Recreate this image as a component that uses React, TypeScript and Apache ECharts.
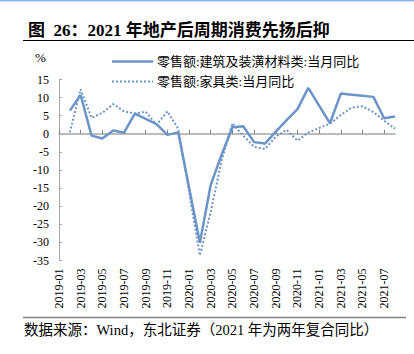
import React, { useEffect, useRef } from "react";
import * as echarts from "echarts";

const categories = [
  "2019-01","2019-02","2019-03","2019-04","2019-05","2019-06","2019-07","2019-08","2019-09","2019-10","2019-11","2019-12",
  "2020-01","2020-02","2020-03","2020-04","2020-05","2020-06","2020-07","2020-08","2020-09","2020-10","2020-11","2020-12",
  "2021-01","2021-02","2021-03","2021-04","2021-05","2021-06","2021-07","2021-08",
];

const buildingMaterials = [
  null, 6.4, 10.7, -0.5, -1.3, 0.9, 0.3, 5.6, 4.1, 2.7, -0.3, 0.4,
  null, -30.1, -14.1, -5.8, 1.8, 2.1, -2.3, -2.7, 0.6, 3.8, 6.8, 12.7,
  null, 2.9, 11.1, 10.8, 10.5, 10.2, 4.3, 4.8,
];

const furniture = [
  null, 0.4, 12.3, 4.4, 5.8, 8.2, 6.2, 5.6, 6.1, 2.5, 6.2, 1.4,
  null, -33.6, -21.5, -7.5, 2.9, -0.5, -3.6, -4.2, -0.8, 1.1, -1.9, 0.4,
  null, 2.8, 5.2, 7.2, 7.6, 6.0, 3.6, 1.4,
];

const seriesNames = ["零售额:建筑及装潢材料类:当月同比", "零售额:家具类:当月同比"];
const titleText = "图  26：2021 年地产后周期消费先扬后抑";
const sourceText = "数据来源：Wind，东北证券（2021 年为两年复合同比）";
const unitText = "%";

const FONT = "'Liberation Serif', 'Noto Sans CJK SC', serif";
const LINE_COLOR = "#6C94C8";
const AXIS_COLOR = "#A6A6A6";
const DOT_DASH = [2, 2];

export default function App() {
  const ref = useRef<HTMLDivElement>(null);
  useEffect(() => {
    if (!ref.current) return;
    const chart = echarts.init(ref.current, null, { renderer: "svg" });
    const legendY = [61.5, 81.5];
    chart.setOption({
      animation: false,
      backgroundColor: "#ffffff",
      textStyle: { fontFamily: FONT },
      grid: { left: 59, right: 19, top: 79.5, bottom: 93.5, containLabel: false },
      xAxis: [
        {
          type: "category",
          data: categories,
          boundaryGap: false,
          position: "bottom",
          axisLine: { show: false, onZero: false },
          axisTick: { show: false },
          axisLabel: {
            interval: 1,
            rotate: 90,
            margin: 8,
            fontSize: 12,
            color: "#000",
            fontFamily: FONT,
          },
        },
        {
          type: "category",
          data: categories,
          boundaryGap: false,
          position: "bottom",
          axisLine: { show: true, onZero: true, lineStyle: { color: AXIS_COLOR, width: 1.5 } },
          axisTick: { show: true, inside: true, interval: 1, length: 4, lineStyle: { color: "#7f7f7f" } },
          axisLabel: { show: false },
        },
      ],
      yAxis: {
        type: "value",
        min: -35,
        max: 15,
        interval: 5,
        axisLine: { show: true, lineStyle: { color: AXIS_COLOR, width: 1 } },
        axisTick: { show: true, inside: true, length: 3, lineStyle: { color: AXIS_COLOR } },
        splitLine: { show: false },
        axisLabel: { fontSize: 12, color: "#000", margin: 10, fontFamily: FONT },
      },
      series: [
        {
          name: seriesNames[0],
          type: "line",
          xAxisIndex: 0,
          data: buildingMaterials,
          connectNulls: true,
          symbol: "none",
          lineStyle: { color: LINE_COLOR, width: 2.5, type: "solid" },
          itemStyle: { color: LINE_COLOR },
        },
        {
          name: seriesNames[1],
          type: "line",
          xAxisIndex: 0,
          data: furniture,
          connectNulls: true,
          symbol: "none",
          lineStyle: { color: LINE_COLOR, width: 2, type: DOT_DASH },
          itemStyle: { color: LINE_COLOR },
        },
      ],
      graphic: [
        { type: "line", shape: { x1: 0, y1: 0.75, x2: 414, y2: 0.75 }, style: { stroke: "#8DB3E2", lineWidth: 1.5 } },
        {
          type: "text",
          x: 28,
          y: 30,
          style: { text: titleText, font: `bold 17px ${FONT}`, fill: "#000", textVerticalAlign: "middle" },
        },
        { type: "line", shape: { x1: 23, y1: 40.5, x2: 414, y2: 40.5 }, style: { stroke: "#000", lineWidth: 1 } },
        {
          type: "text",
          x: 35,
          y: 57,
          style: { text: unitText, font: `13px ${FONT}`, fill: "#000", textVerticalAlign: "middle" },
        },
        // legend
        { type: "line", shape: { x1: 112, y1: legendY[0], x2: 153, y2: legendY[0] }, style: { stroke: LINE_COLOR, lineWidth: 2.5 } },
        {
          type: "text",
          x: 157,
          y: legendY[0],
          style: { text: seriesNames[0], font: `13px ${FONT}`, fill: "#000", textVerticalAlign: "middle" },
        },
        { type: "line", shape: { x1: 112, y1: legendY[1], x2: 153, y2: legendY[1] }, style: { stroke: LINE_COLOR, lineWidth: 2, lineDash: DOT_DASH } },
        {
          type: "text",
          x: 157,
          y: legendY[1],
          style: { text: seriesNames[1], font: `13px ${FONT}`, fill: "#000", textVerticalAlign: "middle" },
        },
        { type: "line", shape: { x1: 23, y1: 317.5, x2: 406, y2: 317.5 }, style: { stroke: "#7F7F7F", lineWidth: 1.5 } },
        {
          type: "text",
          x: 24,
          y: 330,
          style: { text: sourceText, font: `14.5px ${FONT}`, fill: "#000", textVerticalAlign: "middle" },
        },
      ],
    });
    return () => chart.dispose();
  }, []);
  return (
    <div
      ref={ref}
      style={{ position: "fixed", left: 0, top: 0, width: 414, height: 354, background: "#fff" }}
    />
  );
}
